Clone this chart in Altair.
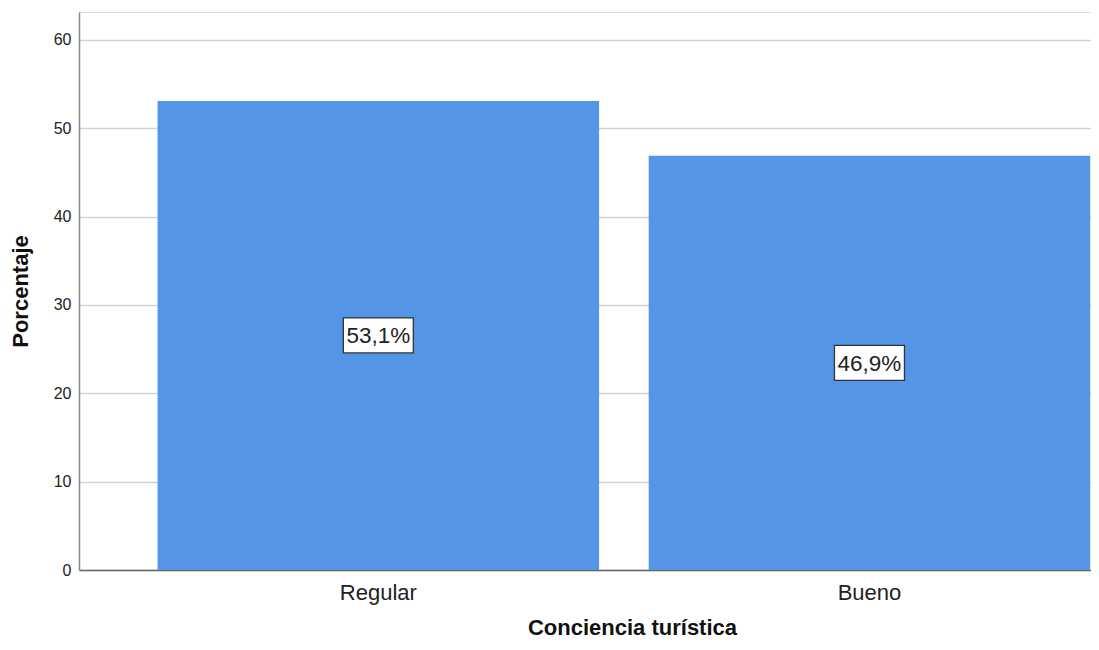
import altair as alt
import pandas as pd

categories = ["Regular", "Bueno"]
percentages = [53.1, 46.9]
labels = ["53,1%", "46,9%"]

df = pd.DataFrame({"cat": categories, "pct": percentages, "lab": labels})
df["mid"] = df["pct"] / 2

FONT = "Liberation Sans"
W, H = 1012, 558

x = alt.X("cat:N", sort=categories, title="Conciencia turística",
          scale=alt.Scale(paddingInner=0.101, paddingOuter=0.0808, align=0.99),
          axis=alt.Axis(labelAngle=0, ticks=False, labelFontSize=22, labelColor="#222",
                        labelPadding=12, titleFontSize=22, titleFontWeight="bold",
                        titleColor="#111", titleX=553, titleY=64,
                        titleBaseline="alphabetic", titleAlign="center",
                        domainColor="#666", domainWidth=1.5, grid=False,
                        labelFont=FONT, titleFont=FONT))

yscale = alt.Scale(domain=[0, 63.16], nice=False, zero=True)

bars = alt.Chart(df).mark_bar(color="#5595E5").encode(
    x=x,
    y=alt.Y("pct:Q", scale=yscale, title="Porcentaje",
            axis=alt.Axis(values=[0, 10, 20, 30, 40, 50, 60], ticks=False,
                          labelFontSize=16, labelColor="#222", labelPadding=8,
                          titleFontSize=22, titleFontWeight="bold", titleColor="#111",
                          titlePadding=21, domainColor="#888", domainWidth=1.5,
                          gridColor="#d2d2d2", gridWidth=1.6,
                          labelFont=FONT, titleFont=FONT)),
)

box = alt.Chart(df).mark_point(
    shape="M-1,-0.5L1,-0.5L1,0.5L-1,0.5Z", size=4900,
    filled=True, fill="white", stroke="#333", strokeWidth=1.3, opacity=1,
).encode(
    x=alt.X("cat:N", sort=categories),
    y=alt.Y("mid:Q", scale=yscale),
)

text = alt.Chart(df).mark_text(fontSize=22.5, font=FONT, color="#222", baseline="middle",
                               dy=1).encode(
    x=alt.X("cat:N", sort=categories),
    y=alt.Y("mid:Q", scale=yscale),
    text="lab:N",
)

chart = alt.layer(bars, box, text).properties(
    width=W, height=H,
    autosize=alt.AutoSizeParams(type="none"),
    padding={"left": 71, "top": 4, "right": 0, "bottom": 72},
).configure_view(stroke=None).configure(background="white")

chart.save("out.html", embed_options={"renderer": "svg", "actions": False})
